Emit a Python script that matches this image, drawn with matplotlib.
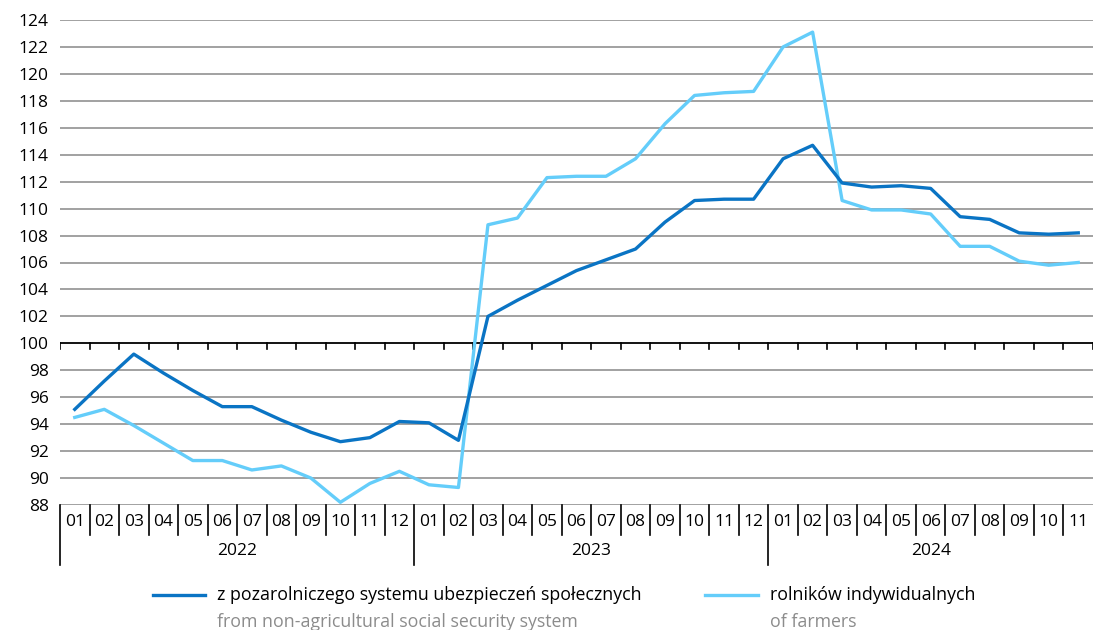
import matplotlib
matplotlib.use("Agg")
import matplotlib.pyplot as plt
from matplotlib.lines import Line2D

# monthly index values, 2022-01 .. 2024-11
years = ["2022", "2023", "2024"]
months_per_year = [12, 12, 11]
month_labels = ["01", "02", "03", "04", "05", "06", "07", "08", "09", "10", "11", "12"]

non_agri = [95.1, 97.2, 99.2, 97.8, 96.5, 95.3, 95.3, 94.3, 93.4, 92.7, 93.0, 94.2,
            94.1, 92.8, 102.0, 103.2, 104.3, 105.4, 106.2, 107.0, 109.0, 110.6, 110.7, 110.7,
            113.7, 114.7, 111.9, 111.6, 111.7, 111.5, 109.4, 109.2, 108.2, 108.1, 108.2]
farmers = [94.5, 95.1, 93.9, 92.6, 91.3, 91.3, 90.6, 90.9, 90.0, 88.2, 89.6, 90.5,
           89.5, 89.3, 108.8, 109.3, 112.3, 112.4, 112.4, 113.7, 116.3, 118.4, 118.6, 118.7,
           122.0, 123.1, 110.6, 109.9, 109.9, 109.6, 107.2, 107.2, 106.1, 105.8, 106.0]

legend_pl = ["z pozarolniczego systemu ubezpieczeń społecznych", "rolników indywidualnych"]
legend_en = ["from non-agricultural social security system", "of farmers"]

dark = "#0a74c4"
light = "#64cdfa"
grid_col = "#9a9a9a"

plt.rcParams["font.family"] = ["Open Sans", "DejaVu Sans"]

fig = plt.figure(figsize=(10.93, 6.30), dpi=100)
ax = fig.add_axes([60 / 1093, 1 - 505 / 630, 1033 / 1093, 485 / 630])

n = len(non_agri)
x = list(range(n))

ax.set_ylim(88, 124)
ax.set_xlim(-0.5, n - 0.5)
yt = list(range(88, 125, 2))
ax.set_yticks(yt)
ax.set_yticklabels([str(v) for v in yt], fontsize=12.5)
ax.tick_params(axis="y", length=0, pad=8)
ax.set_xticks([])
for s in ax.spines.values():
    s.set_visible(False)
for v in yt:
    if v != 100:
        ax.axhline(v, color=grid_col, lw=1.3, zorder=1)

# category axis crossing at 100
ax.axhline(100, color="black", lw=1.3, zorder=2)
tick_len = 6 / 13.47
for i in range(n + 1):
    ax.plot([i - 0.5, i - 0.5], [100, 100 - tick_len], color="black", lw=1.2, zorder=2)

ax.plot(x, farmers, color=light, lw=2.4, zorder=3)
ax.plot(x, non_agri, color=dark, lw=2.4, zorder=4)

# month and year labels under the plot
tr = ax.get_xaxis_transform()
px = 1 / 485
idx = 0
ax.add_line(Line2D([-0.5, -0.5], [0, -60 * px], transform=tr, color="black", lw=1.2, clip_on=False))
for y, cnt in zip(years, months_per_year):
    for m in range(cnt):
        ax.text(idx + m, -17 * px, month_labels[m], transform=tr, ha="center", va="center",
                fontsize=12.5)
        if m > 0:
            ax.add_line(Line2D([idx + m - 0.5] * 2, [0, -30 * px], transform=tr,
                               color="black", lw=1.2, clip_on=False))
    ax.text(idx + (cnt - 1) / 2, -46 * px, y, transform=tr, ha="center", va="center", fontsize=12.5)
    end = idx + cnt - 0.5
    if idx + cnt < n:
        ax.add_line(Line2D([end, end], [0, -60 * px], transform=tr, color="black", lw=1.2,
                           clip_on=False))
    idx += cnt

# legend
W, H = 1093, 630
for (x0, x1, tx), col, pl, en in zip([(153, 205, 217), (705, 758, 770)], [dark, light],
                                      legend_pl, legend_en):
    fig.add_artist(Line2D([x0 / W, x1 / W], [1 - 595 / H] * 2, color=col, lw=2.4))
    fig.text(tx / W, 1 - 595 / H, pl, ha="left", va="center", fontsize=12.8, color="black")
    fig.text(tx / W, 1 - 622 / H, en, ha="left", va="center", fontsize=12.8, color="#8c8c8c")

fig.savefig("out.png", dpi=100)
